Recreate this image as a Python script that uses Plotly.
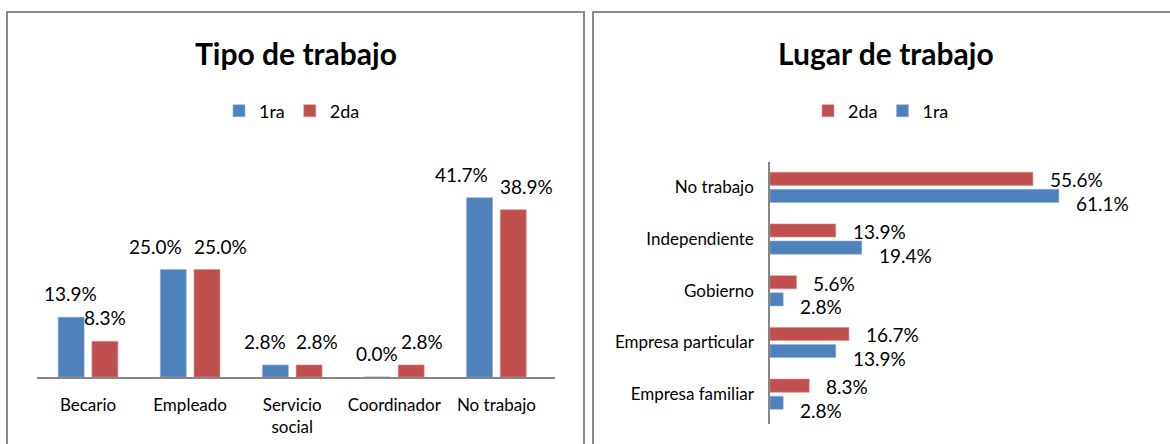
import plotly.graph_objects as go

# ---- data ----
tipo_cats = ["Becario", "Empleado", "Servicio<br>social", "Coordinador", "No trabajo"]
tipo_1ra = [13.9, 25.0, 2.8, 0.0, 41.7]
tipo_2da = [8.3, 25.0, 2.8, 2.8, 38.9]

lugar_cats = ["Empresa familiar", "Empresa particular", "Gobierno", "Independiente", "No trabajo"]
lugar_1ra = [2.8, 13.9, 2.8, 19.4, 61.1]
lugar_2da = [8.3, 16.7, 5.6, 13.9, 55.6]

series_names = ["1ra", "2da"]

# ---- styling ----
BLUE = "#4F81BD"
RED = "#C0504D"
FONT = "Lato"
# horizontal nudges (px) of the left chart's data labels, spread apart like the original
label_dx_1ra = [0, -18, -10, 0, -18]
label_dx_2da = [0, 13, 8, 11, 13]

W, H = 1170, 444
def px(x):
    return x / W
def py(y):
    return 1 - y / H

fig = go.Figure()

# left chart
fig.add_trace(go.Bar(x=tipo_cats, y=tipo_1ra, name=series_names[0], marker_color=BLUE,
                     marker_line=dict(color="#8FB0DA", width=0.6),
                     xaxis="x", yaxis="y", legend="legend"))
fig.add_trace(go.Bar(x=tipo_cats, y=tipo_2da, name=series_names[1], marker_color=RED,
                     marker_line=dict(color="#DC8E8C", width=0.6),
                     xaxis="x", yaxis="y", legend="legend"))
# right chart
fig.add_trace(go.Bar(y=lugar_cats, x=lugar_1ra, name=series_names[0], orientation="h",
                     marker_color=BLUE, marker_line=dict(color="#8FB0DA", width=0.6),
                     xaxis="x2", yaxis="y2", legend="legend2"))
fig.add_trace(go.Bar(y=lugar_cats, x=lugar_2da, name=series_names[1], orientation="h",
                     marker_color=RED, marker_line=dict(color="#DC8E8C", width=0.6),
                     xaxis="x2", yaxis="y2", legend="legend2"))

annotations = []
lab_font = dict(family=FONT, size=19, color="#000000")
# left labels
for vals, base, nudges in ((tipo_1ra, -17.1, label_dx_1ra), (tipo_2da, 17.1, label_dx_2da)):
    for c, v, dx in zip(tipo_cats, vals, nudges):
        annotations.append(dict(x=c, y=v, xref="x", yref="y", text=f"{v:.1f}%",
                                showarrow=False, xshift=base + dx, yshift=10, yanchor="bottom",
                                xanchor="center", font=lab_font))
# right labels
for vals, ys in ((lugar_1ra, -16), (lugar_2da, 7.7)):
    for c, v in zip(lugar_cats, vals):
        annotations.append(dict(x=v, y=c, xref="x2", yref="y2", text=f"{v:.1f}%",
                                showarrow=False, xshift=15, yshift=ys, xanchor="left",
                                yanchor="middle", font=lab_font))
# titles
annotations.append(dict(x=px(295.5), y=py(53), xref="paper", yref="paper",
                        text="<b>Tipo de trabajo</b>", showarrow=False,
                        font=dict(family=FONT, size=30, color="#000000"),
                        xanchor="center", yanchor="middle"))
annotations.append(dict(x=px(886), y=py(53), xref="paper", yref="paper",
                        text="<b>Lugar de trabajo</b>", showarrow=False,
                        font=dict(family=FONT, size=30, color="#000000"),
                        xanchor="center", yanchor="middle"))

shapes = [
    dict(type="rect", xref="paper", yref="paper", x0=px(7), x1=px(584), y0=-0.2, y1=py(12),
         line=dict(color="#8A8A8A", width=2), fillcolor="rgba(0,0,0,0)", layer="below"),
    dict(type="rect", xref="paper", yref="paper", x0=px(593), x1=1.2, y0=-0.2, y1=py(12),
         line=dict(color="#8A8A8A", width=2), fillcolor="rgba(0,0,0,0)", layer="below"),
]

tick_font = dict(family=FONT, size=17, color="#000000")
leg_font = dict(family=FONT, size=18, color="#000000")

fig.update_layout(
    width=W, height=H,
    margin=dict(l=0, r=0, t=0, b=0),
    paper_bgcolor="white", plot_bgcolor="white",
    barmode="group", bargap=0.34, bargroupgap=0.23,
    annotations=annotations, shapes=shapes,
    xaxis=dict(domain=[px(37), px(555)], type="category", categoryorder="array",
               categoryarray=tipo_cats, showline=True, linecolor="#868686", linewidth=1.5,
               ticks="", showgrid=False, tickfont=tick_font, anchor="y", fixedrange=True,
               ticklabelstandoff=12),
    yaxis=dict(domain=[py(377), py(183.5)], range=[0, 45], visible=False, showgrid=False,
               anchor="x"),
    xaxis2=dict(domain=[px(770), px(1101)], range=[0, 70], visible=False, showgrid=False,
                anchor="y2"),
    yaxis2=dict(domain=[py(423.7), py(161.5)], type="category", categoryorder="array",
                categoryarray=lugar_cats, showline=True, linecolor="#868686", linewidth=1.5,
                ticks="", showgrid=False, tickfont=tick_font, anchor="x2",
                ticklabelstandoff=11),
    legend=dict(orientation="h", x=px(292), y=py(111), xanchor="center", yanchor="middle",
                font=leg_font, bgcolor="rgba(0,0,0,0)", itemwidth=30),
    legend2=dict(orientation="h", x=px(881), y=py(111), xanchor="center", yanchor="middle",
                 font=leg_font, bgcolor="rgba(0,0,0,0)", traceorder="reversed", itemwidth=30),
    showlegend=True,
)

fig.write_html("out.html", config={"displayModeBar": False},
               post_script="document.body.style.margin='0';")
